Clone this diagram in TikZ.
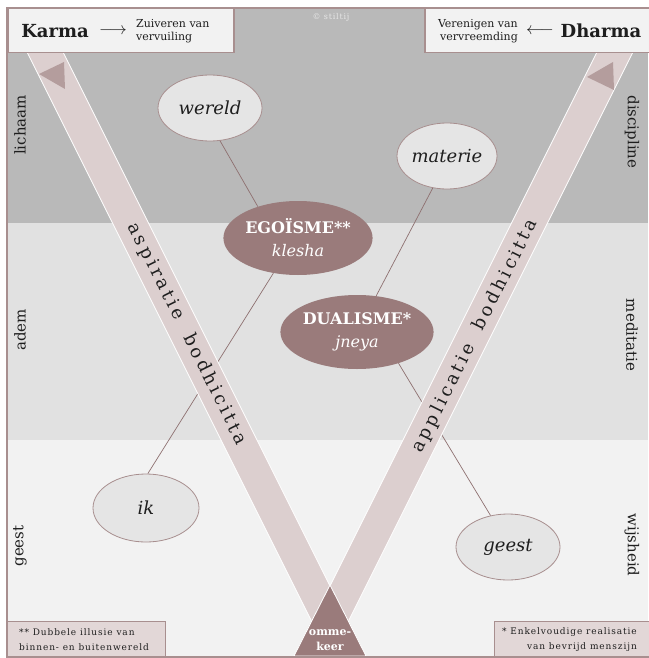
\documentclass[tikz,border=0pt]{standalone}
\usepackage{fontspec}
\setmainfont{DejaVu Serif}
\newfontfamily\spacedfont[LetterSpace=10]{DejaVu Serif}
\newfontfamily\stripfont[LetterSpace=18]{DejaVu Serif}
\usetikzlibrary{shapes.geometric}

\definecolor{bandtop}{HTML}{B9B9B9}
\definecolor{bandmid}{HTML}{E1E1E1}
\definecolor{bandlow}{HTML}{F2F2F2}
\definecolor{rim}{HTML}{A88F8F}
\definecolor{stripfill}{HTML}{DCCFCF}
\definecolor{mauve}{HTML}{9A7B7B}
\definecolor{arrowfill}{HTML}{B49D9D}
\definecolor{bubblefill}{HTML}{E5E5E5}
\definecolor{notefill}{HTML}{E2D7D7}
\definecolor{linkcol}{HTML}{8E7070}
\definecolor{ink}{HTML}{1E1E1E}
\definecolor{copymark}{HTML}{E6E6E6}

\begin{document}
\begin{tikzpicture}[x=1pt,y=-1pt,
  every node/.style={text=ink,inner sep=0pt},
  bubble/.style={ellipse,draw=rim,line width=0.8pt,fill=bubblefill,inner sep=0pt,
    font=\itshape\fontsize{18}{18}\selectfont},
  core/.style={ellipse,fill=mauve,draw=none,inner sep=0pt,text=white,align=center,
    font=\fontsize{16}{23}\selectfont},
  linkline/.style={draw=linkcol,line width=0.7pt},
  sidelabel/.style={font=\fontsize{15}{15}\selectfont},
  striptext/.style={font=\stripfont\fontsize{18}{18}\selectfont},
  headbox/.style={draw=rim,line width=1.5pt,fill=bandlow,anchor=north west},
  notebox/.style={draw=rim,line width=1.2pt,fill=notefill},
  titlefont/.style={font=\bfseries\fontsize{18}{18}\selectfont},
  smallnote/.style={font=\fontsize{11}{13}\selectfont},
  footnote/.style={font=\spacedfont\fontsize{9}{15}\selectfont}
]
\useasboundingbox (0,0) rectangle (648,658);
\fill[white] (0,0) rectangle (648,658);

% three horizontal bands
\fill[bandtop] (7,8) rectangle (648,223);
\fill[bandmid] (7,223) rectangle (648,440);
\fill[bandlow] (7,440) rectangle (648,657);

% ellipses
\node[bubble,minimum width=104pt,minimum height=66pt] (wereld) at (210,108) {wereld};
\node[bubble,minimum width=94pt,minimum height=66pt] (materie) at (447,156) {materie};
\node[bubble,minimum width=106pt,minimum height=68pt] (ik) at (146,508) {ik};
\node[bubble,minimum width=104pt,minimum height=66pt] (geest) at (508,547) {geest};
\node[core,minimum width=144pt,minimum height=74pt] (ego) at (298,238)
  {{\bfseries EGOÏSME**}\\{\itshape klesha}};
\node[core,minimum width=142pt,minimum height=74pt] (dual) at (357,332)
  {{\bfseries DUALISME*}\\{\itshape jneya}};

% connectors, passing underneath the strips
\draw[linkline] (wereld.-73) -- (ego.142);
\draw[linkline] (ego.-125) -- (ik.87);
\draw[linkline] (materie.-114) -- (dual.62);
\draw[linkline] (dual.-37) -- (geest.119);

% the two strips forming the V
\begin{scope}
  \clip (7,8) rectangle (648,657);
  \filldraw[fill=stripfill,draw=white,line width=0.8pt]
    (27,52) -- (63,52) -- (365,656) -- (329,656) -- cycle;
  \filldraw[fill=stripfill,draw=white,line width=0.8pt]
    (597,52) -- (633,52) -- (331,656) -- (295,656) -- cycle;
\end{scope}

% arrowheads at the upper ends of the strips
\fill[arrowfill] (39,74) -- (64,62) -- (65,89) -- cycle;
\fill[arrowfill] (587,77) -- (613,62) -- (614,90) -- cycle;

% turning point at the bottom of the V
\filldraw[fill=mauve,draw=white,line width=0.8pt] (330,585) -- (366,656) -- (294,656) -- cycle;
\node[text=white,align=center,font=\bfseries\fontsize{11}{15}\selectfont] (turn) at (330,640) {omme-\\keer};

% strip captions
\node[striptext,rotate=-63.43] (aspire) at (187,334) {aspiratie\quad bodhicitta};
\node[striptext,rotate=63.43] (apply) at (475,336) {applicatie\quad bodhicitta};

% side labels
\node[sidelabel,rotate=90] (lichaam) at (20,125) {lichaam};
\node[sidelabel,rotate=90] (adem) at (20,330) {adem};
\node[sidelabel,rotate=90] (geestside) at (20,546) {geest};
\node[sidelabel,rotate=-90] (discipline) at (632,132) {discipline};
\node[sidelabel,rotate=-90] (meditatie) at (632,335) {meditatie};
\node[sidelabel,rotate=-90] (wijsheid) at (632,545) {wijsheid};

% header boxes
\node[headbox,minimum width=226pt,minimum height=44pt] (karmabox) at (7,8) {};
\node[titlefont] (karma) at (55,31) {Karma};
\node[font=\fontsize{16}{16}\selectfont] (karmaarrow) at (113,31) {$\longrightarrow$};
\node[smallnote,anchor=west,align=left] (karmanote) at (136,31) {Zuiveren van\\vervuiling};

\node[headbox,minimum width=228pt,minimum height=44pt] (dharmabox) at (424,8) {};
\node[smallnote,anchor=east,align=right] (dharmanote) at (518,31) {Verenigen van\\vervreemding};
\node[font=\fontsize{16}{16}\selectfont] (dharmaarrow) at (540,31) {$\longleftarrow$};
\node[titlefont] (dharma) at (601,31) {Dharma};

\node[text=copymark,font=\spacedfont\fontsize{8}{8}\selectfont] (copyright) at (331,17) {© stiltij};

% footnote boxes
\node[notebox,anchor=south west,minimum width=158pt,minimum height=35pt] (leftnotebox) at (7,657) {};
\node[footnote,anchor=west,align=left] (leftnote) at (19,640) {** Dubbele illusie van\\binnen- en buitenwereld};
\node[notebox,anchor=south west,minimum width=158pt,minimum height=35pt] (rightnotebox) at (494,657) {};
\node[footnote,anchor=east,align=right] (rightnote) at (637,640) {* Enkelvoudige realisatie\\van bevrijd menszijn};

% outer frame
\draw[rim,line width=2pt] (7,8) rectangle (652,657);
\end{tikzpicture}
\end{document}
